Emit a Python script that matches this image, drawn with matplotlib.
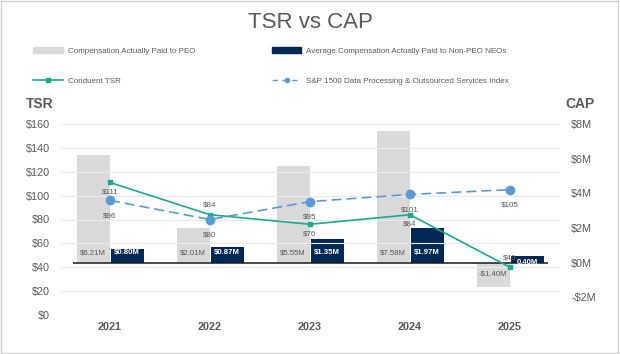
import numpy as np
import matplotlib.pyplot as plt
from matplotlib.patches import Rectangle
from matplotlib.lines import Line2D
from matplotlib.patches import Patch

plt.rcParams['font.family'] = ['Liberation Sans', 'DejaVu Sans']

# Data
years = ['2021', '2022', '2023', '2024', '2025']
cap_peo = [6.21, 2.01, 5.55, 7.58, -1.40]          # $M
cap_neo = [0.80, 0.87, 1.35, 1.97, 0.40]           # $M
conduent_tsr = [111, 84, 76, 84, 40]
index_tsr = [96, 80, 95, 101, 105]
tsr_label_above = [False, True, False, False, True]

GRAY = '#d9d9d9'
NAVY = '#002856'
TEAL = '#1aaa8c'
BLUE = '#5b9bd5'
TXT = '#595959'

fig = plt.figure(figsize=(6.2, 3.54), dpi=100)
fig.patches.append(Rectangle((0.002, 0.003), 0.995, 0.994, transform=fig.transFigure,
                             fill=False, edgecolor='#d0d0d0', lw=1))

ax = fig.add_axes([60 / 620, 39 / 354, 500 / 620, 191 / 354])
ax2 = ax.twinx()
ax.set_zorder(ax2.get_zorder() + 1)
ax.patch.set_visible(False)

x = np.arange(len(years))
w = 0.33

# bars on the CAP axis
ax2.bar(x - 0.17, cap_peo, w, color=GRAY, zorder=2)
ax2.bar(x + 0.17, cap_neo, w, color=NAVY, zorder=2)
ax2.hlines(0, -0.37, 4.38, color='#1a1a1a', lw=1.1, zorder=3)
for i in range(len(years)):
    if cap_peo[i] >= 0:
        lab = '$%.2fM' % cap_peo[i]
        ax2.annotate(lab, (x[i] - 0.17, 0), xytext=(0, 7), textcoords='offset points',
                     ha='center', va='center', fontsize=5.6, color=TXT, zorder=4)
    else:
        lab = '-$%.2fM' % abs(cap_peo[i])
        ax2.annotate(lab, (x[i] - 0.17, 0), xytext=(0, -8), textcoords='offset points',
                     ha='center', va='center', fontsize=5.6, color=TXT, zorder=4)
    ax2.annotate('$%.2fM' % cap_neo[i] if i < 4 else '%.2fM' % cap_neo[i],
                 (x[i] + 0.17, 0), xytext=(0, 7 if i < 4 else 0), textcoords='offset points',
                 ha='center', va='center', fontsize=5.6, color='white',
                 fontweight='bold', zorder=4)

ax2.set_ylim(-3.03, 8)
ax2.set_yticks([-2, 0, 2, 4, 6, 8])
ax2.set_yticklabels(['-$2M', '$0M', '$2M', '$4M', '$6M', '$8M'])

# TSR lines
ax.plot(x, conduent_tsr, color=TEAL, lw=1.2, marker='s', ms=3.5, zorder=5)
ax.plot(x, index_tsr, color=BLUE, lw=1.2, ls=(0, (6, 3)), marker='o', ms=6, zorder=5)
for i in range(len(years)):
    dy = 7 if tsr_label_above[i] else -7
    ax.annotate('$%d' % conduent_tsr[i], (x[i], conduent_tsr[i]), xytext=(0, dy),
                textcoords='offset points', ha='center', va='center', fontsize=5.8,
                color=TXT)
    ax.annotate('$%d' % index_tsr[i], (x[i], index_tsr[i]), xytext=(0, -11),
                textcoords='offset points', ha='center', va='center', fontsize=5.8,
                color=TXT)

ax.set_ylim(0, 160)
ax.set_yticks(range(0, 161, 20))
ax.set_yticklabels(['$%d' % v for v in range(0, 161, 20)])
ax.set_xlim(-0.5, 4.5)
ax.set_xticks(x)
ax.set_xticklabels(years, fontweight='bold', fontsize=7.5, color='#1a1a1a')
ax2.set_xlim(-0.5, 4.5)

for a in (ax, ax2):
    for s in a.spines.values():
        s.set_visible(False)
    a.tick_params(length=0, labelsize=7.8, labelcolor=TXT)
ax.tick_params(axis='y', pad=7)
ax2.tick_params(axis='y', pad=8)
ax.tick_params(axis='x', pad=5)
ax2.grid(False)
ax.yaxis.grid(True, color='#ebebeb', lw=0.8)
ax.set_axisbelow(True)

fig.text(40 / 620, 1 - 104 / 354, 'TSR', ha='center', va='center', fontsize=10,
         fontweight='bold', color=TXT)
fig.text(580 / 620, 1 - 104 / 354, 'CAP', ha='center', va='center', fontsize=10,
         fontweight='bold', color=TXT)
fig.text(0.5, 1 - 22 / 354, 'TSR vs CAP', ha='center', va='center', fontsize=16, color=TXT)

handles = [Patch(color=GRAY),
           Line2D([], [], color=TEAL, lw=1.2, marker='s', ms=3.5),
           Patch(color=NAVY),
           Line2D([], [], color=BLUE, lw=1.0, ls=(0, (4, 3)), marker='o', ms=3)]
labels = ['Compensation Actually Paid to PEO', 'Conduent TSR',
          'Average Compensation Actually Paid to Non-PEO NEOs',
          'S&P 1500 Data Processing & Outsourced Services Index']
leg = fig.legend(handles, labels, ncol=2, loc='upper left',
                 bbox_to_anchor=(33 / 620, 1 - 47 / 354), frameon=False,
                 fontsize=5.8, handlelength=3.7, handleheight=0.8, handletextpad=0.6,
                 columnspacing=9.5, labelspacing=2.75, borderpad=0, borderaxespad=0)
for t in leg.get_texts():
    t.set_color(TXT)

fig.savefig('out.png', dpi=100)
